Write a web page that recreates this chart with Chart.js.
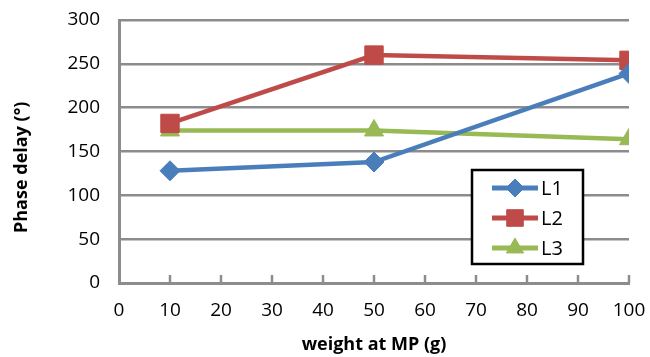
<!DOCTYPE html>
<html>
<head>
<meta charset="utf-8">
<script src="https://cdn.jsdelivr.net/npm/chart.js@4/dist/chart.umd.min.js"></script>
<style>
  html, body { margin: 0; padding: 0; background: #fff; }
  #wrap { width: 650px; height: 357px; }
</style>
</head>
<body>
<div id="wrap"><canvas id="phaseChart"></canvas></div>
<script>
const weights = [10, 50, 100];
const l1Values = [128, 138, 239];
const l2Values = [182, 260, 254];
const l3Values = [174, 174, 164];
const seriesNames = ['L1', 'L2', 'L3'];
const yTitle = 'Phase delay (°)';
const xTitle = 'weight at MP (g)';

const colors = ['#4a7ebb', '#be4b48', '#98b954'];
const markers = ['rectRot', 'rect', 'triangle'];
const radii = [10, 13, 11];

function toPoints(values) {
  return weights.map((w, i) => ({ x: w, y: values[i] }));
}

const datasets = [l1Values, l2Values, l3Values].map((vals, i) => ({
  label: seriesNames[i],
  data: toPoints(vals),
  borderColor: colors[i],
  backgroundColor: colors[i],
  borderWidth: 4.5,
  pointStyle: markers[i],
  pointRadius: radii[i],
  pointBorderWidth: 1,
  pointHoverRadius: radii[i],
  tension: 0
}));

// tick marks on the x axis point up into the plot
const upTicks = {
  id: 'upTicks',
  afterDraw(chart) {
    const ctx = chart.ctx;
    const xs = chart.scales.x;
    const bottom = chart.chartArea.bottom;
    ctx.save();
    ctx.strokeStyle = '#8c8c8c';
    ctx.lineWidth = 2.5;
    xs.ticks.forEach((t, i) => {
      if (i === 0) return;
      const px = xs.getPixelForTick(i);
      ctx.beginPath();
      ctx.moveTo(px, bottom);
      ctx.lineTo(px, bottom - 8);
      ctx.stroke();
    });
    ctx.restore();
  }
};

// rotated y title, sits a bit below the middle of the axis
const yTitlePlugin = {
  id: 'yTitlePlugin',
  afterDraw(chart) {
    const ctx = chart.ctx;
    const ys = chart.scales.y;
    ctx.save();
    ctx.translate(22, ys.getPixelForValue(132));
    ctx.rotate(-Math.PI / 2);
    ctx.font = 'bold 18px "Open Sans"';
    ctx.fillStyle = '#000';
    ctx.textAlign = 'center';
    ctx.textBaseline = 'middle';
    ctx.fillText(yTitle, 0, 0);
    ctx.restore();
  }
};

// boxed legend inside the plot, lower right
const boxLegend = {
  id: 'boxLegend',
  afterDraw(chart) {
    const ctx = chart.ctx;
    const left = 472, top = 170, w = 111, h = 94;
    ctx.save();
    ctx.fillStyle = '#fff';
    ctx.fillRect(left, top, w, h);
    ctx.strokeStyle = '#000';
    ctx.lineWidth = 2.5;
    ctx.strokeRect(left, top, w, h);
    ctx.font = '20px "Open Sans"';
    ctx.textBaseline = 'middle';
    chart.data.datasets.forEach((ds, i) => {
      const cy = top + 18 + i * 30;
      ctx.strokeStyle = ds.borderColor;
      ctx.lineWidth = 5;
      ctx.beginPath();
      ctx.moveTo(left + 20, cy);
      ctx.lineTo(left + 66, cy);
      ctx.stroke();
      ctx.fillStyle = ds.backgroundColor;
      ctx.lineWidth = 1;
      Chart.helpers.drawPoint(ctx, {
        pointStyle: ds.pointStyle,
        radius: ds.pointRadius * 0.9,
        borderWidth: 1
      }, left + 43, cy);
      ctx.fillStyle = '#000';
      ctx.fillText(ds.label, left + 69, cy + 1);
    });
    ctx.restore();
  }
};

new Chart(document.getElementById('phaseChart'), {
  type: 'line',
  data: { datasets },
  options: {
    responsive: true,
    maintainAspectRatio: false,
    animation: false,
    layout: { padding: { top: 20, right: 21, left: 0, bottom: 0 } },
    plugins: {
      legend: { display: false },
      tooltip: { enabled: false }
    },
    scales: {
      x: {
        type: 'linear',
        min: 0,
        max: 100,
        ticks: { stepSize: 10, color: '#000', font: { family: 'Open Sans', size: 19 }, padding: 16 },
        grid: { display: true, drawOnChartArea: false, drawTicks: false },
        border: { color: '#8c8c8c', width: 3 },
        title: {
          display: true,
          text: xTitle,
          color: '#000',
          font: { family: 'Open Sans', size: 18, weight: 'bold' },
          padding: { top: 0, bottom: 1 }
        },
        afterFit(s) {
          s.height = 74;
          s.paddingLeft = 0;
          s.paddingRight = 0;
        }
      },
      y: {
        min: 0,
        max: 300,
        ticks: { stepSize: 50, color: '#000', font: { family: 'Open Sans', size: 19 }, padding: 19 },
        grid: { color: '#8c8c8c', lineWidth: 2.5, drawTicks: false },
        border: { color: '#8c8c8c', width: 3 },
        afterFit(s) {
          s.width = 119;
          s.paddingTop = 0;
          s.paddingBottom = 0;
        }
      }
    }
  },
  plugins: [upTicks, yTitlePlugin, boxLegend]
});
</script>
</body>
</html>
